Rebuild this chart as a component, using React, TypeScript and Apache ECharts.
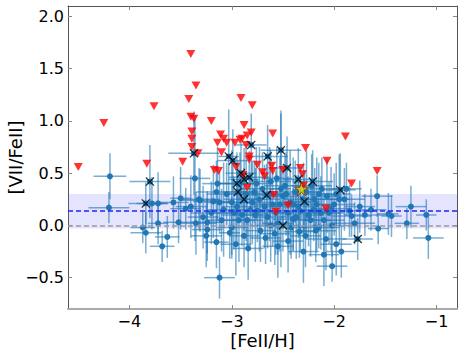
import React, { useEffect, useRef } from "react";
import * as echarts from "echarts";

// [x, y, xerr, yerr]
const bluePoints: number[][] = [
  [-4.19, 0.47, 0.16, 0.22], [-4.20, 0.17, 0.2, 0.15], [-3.78, 0.21, 0.15, 0.25], [-3.72, 0.21, 0.1, 0.3],
  [-3.57, 0.22, 0.15, 0.25], [-3.50, 0.26, 0.1, 0.3], [-3.72, 0.02, 0.1, 0.2], [-3.87, -0.02, 0.12, 0.15],
  [-3.84, -0.07, 0.15, 0.2], [-3.63, -0.11, 0.12, 0.2], [-3.68, -0.20, 0.12, 0.15], [-3.52, 0.03, 0.15, 0.2],
  [-3.32, 0.25, 0.2, 0.3], [-3.45, 0.16, 0.15, 0.2], [-3.18, 0.23, 0.2, 0.35], [-3.12, 0.22, 0.15, 0.3],
  [-3.02, -0.07, 0.1, 0.25], [-3.15, -0.16, 0.12, 0.25], [-3.12, -0.50, 0.15, 0.2], [-2.67, -0.12, 0.15, 0.25],
  [-3.24, -0.04, 0.15, 0.3], [-2.34, -0.06, 0.15, 0.25], [-2.08, -0.13, 0.2, 0.3], [-1.93, -0.25, 0.15, 0.25],
  [-2.02, -0.39, 0.15, 0.15], [-1.58, 0.28, 0.15, 0.2], [-1.57, -0.03, 0.1, 0.15], [-1.25, 0.18, 0.15, 0.2],
  [-1.10, 0.10, 0.1, 0.15], [-1.08, -0.12, 0.15, 0.2], [-1.29, 0.02, 0.12, 0.15], [-1.44, 0.09, 0.1, 0.2],
  [-1.64, 0.15, 0.15, 0.2], [-1.83, 0.09, 0.2, 0.2], [-2.15, -0.02, 0.2, 0.2], [-1.47, 0.11, 0.1, 0.2],
  [-3.80, 0.42, 0.2, 0.35], [-3.84, 0.21, 0.17, 0.2], [-3.37, 0.69, 0.25, 0.4], [-3.03, 0.66, 0.1, 0.45],
  [-2.99, 0.62, 0.15, 0.3], [-2.81, 0.77, 0.15, 0.3], [-2.65, 0.66, 0.2, 0.3], [-2.52, 0.72, 0.2, 0.35],
  [-2.46, 0.55, 0.15, 0.3], [-2.91, 0.50, 0.15, 0.3], [-2.95, 0.40, 0.2, 0.3], [-2.88, 0.44, 0.15, 0.3],
  [-2.83, 0.46, 0.2, 0.25], [-2.94, 0.32, 0.15, 0.3], [-2.88, 0.25, 0.2, 0.3], [-2.66, 0.29, 0.15, 0.3],
  [-2.50, 0.00, 0.15, 0.25], [-2.35, 0.44, 0.15, 0.3], [-2.21, 0.42, 0.2, 0.3], [-2.29, 0.23, 0.15, 0.3],
  [-1.94, 0.34, 0.15, 0.35], [-1.77, -0.13, 0.15, 0.2],
  [-3.05, 0.30, 0.2, 0.3], [-2.95, 0.18, 0.15, 0.35], [-2.90, 0.10, 0.2, 0.3], [-2.85, 0.05, 0.15, 0.25],
  [-2.80, 0.22, 0.2, 0.4], [-2.75, 0.14, 0.15, 0.3], [-2.70, 0.35, 0.2, 0.35], [-2.65, 0.08, 0.15, 0.3],
  [-2.60, 0.20, 0.2, 0.4], [-2.55, 0.02, 0.15, 0.3], [-2.52, 0.35, 0.1, 0.75], [-2.50, 0.28, 0.2, 0.3],
  [-2.45, 0.12, 0.15, 0.35], [-2.40, 0.06, 0.2, 0.3], [-2.35, 0.18, 0.15, 0.3], [-2.30, 0.25, 0.2, 0.35],
  [-2.25, 0.10, 0.15, 0.3], [-2.20, 0.15, 0.2, 0.3], [-2.15, 0.30, 0.15, 0.3], [-2.10, 0.05, 0.2, 0.3],
  [-2.05, 0.12, 0.15, 0.3], [-2.00, 0.20, 0.2, 0.3], [-1.95, 0.25, 0.1, 0.43], [-1.90, 0.25, 0.2, 0.3],
  [-1.85, 0.14, 0.15, 0.25], [-1.80, 0.02, 0.2, 0.2], [-1.75, 0.18, 0.15, 0.25], [-1.70, 0.10, 0.2, 0.2],
  [-3.00, -0.02, 0.15, 0.3], [-2.92, 0.40, 0.2, 0.3], [-2.88, -0.10, 0.15, 0.3], [-2.78, 0.32, 0.2, 0.3],
  [-2.72, -0.05, 0.15, 0.3], [-2.62, 0.42, 0.2, 0.3], [-2.58, -0.08, 0.15, 0.3], [-2.48, 0.38, 0.2, 0.3],
  [-2.42, -0.02, 0.15, 0.3], [-2.38, 0.32, 0.2, 0.3], [-2.28, -0.10, 0.15, 0.3], [-2.22, 0.38, 0.2, 0.3],
  [-2.12, 0.35, 0.15, 0.3], [-2.18, -0.05, 0.2, 0.3], [-1.98, 0.30, 0.15, 0.3], [-2.02, 0.00, 0.2, 0.3],
  [-1.88, 0.35, 0.15, 0.25], [-3.20, 0.12, 0.2, 0.3], [-3.10, 0.05, 0.15, 0.3], [-3.15, 0.32, 0.2, 0.3],
  [-3.28, 0.08, 0.15, 0.3], [-3.35, 0.02, 0.2, 0.3], [-3.40, 0.18, 0.15, 0.3], [-3.25, -0.10, 0.15, 0.3],
  [-2.96, -0.18, 0.15, 0.3], [-2.84, -0.22, 0.15, 0.3], [-2.55, -0.20, 0.15, 0.3], [-2.45, -0.15, 0.15, 0.3],
  [-2.30, -0.25, 0.15, 0.3], [-2.10, -0.28, 0.15, 0.3], [-1.98, -0.18, 0.15, 0.3], [-3.36, 0.45, 0.15, 0.6],
  [-3.31, 0.24, 0.2, 0.3], [-3.24, 0.03, 0.15, 0.3],
  [-3.08, 0.15, 0.15, 0.45], [-3.00, 0.22, 0.2, 0.5], [-2.93, 0.05, 0.15, 0.4], [-2.86, 0.30, 0.2, 0.45],
  [-2.77, 0.10, 0.15, 0.45], [-2.73, 0.25, 0.2, 0.5], [-2.68, 0.18, 0.15, 0.4], [-2.63, 0.30, 0.2, 0.45],
  [-2.57, 0.12, 0.15, 0.4], [-2.53, 0.20, 0.2, 0.45], [-2.47, 0.30, 0.15, 0.4], [-2.43, 0.22, 0.2, 0.5],
  [-2.37, 0.08, 0.15, 0.4], [-2.33, 0.14, 0.2, 0.4], [-2.27, 0.32, 0.15, 0.4], [-2.23, 0.05, 0.2, 0.35],
  [-2.17, 0.20, 0.15, 0.45], [-2.13, 0.12, 0.2, 0.35], [-2.07, 0.28, 0.15, 0.35], [-2.03, 0.16, 0.2, 0.4],
  [-2.98, 0.12, 0.2, 0.35], [-2.82, 0.15, 0.2, 0.35], [-2.62, 0.00, 0.2, 0.35], [-2.40, 0.20, 0.15, 0.45],
  [-3.14, 0.40, 0.15, 0.35], [-2.76, 0.40, 0.15, 0.35], [-2.56, 0.45, 0.15, 0.3], [-2.19, 0.25, 0.15, 0.3],
];

const upperLimits: number[][] = [
  [-4.50, 0.56], [-4.25, 0.98], [-3.76, 1.14], [-3.83, 0.59], [-3.40, 1.64], [-3.35, 1.34], [-3.42, 1.21],
  [-3.40, 1.04], [-3.37, 1.02], [-3.20, 1.00], [-2.91, 1.22], [-2.80, 1.15], [-3.39, 0.90], [-3.39, 0.83],
  [-3.39, 0.75], [-3.33, 0.69], [-3.48, 0.61], [-3.11, 0.87], [-3.08, 0.83], [-3.14, 0.79], [-3.05, 0.79],
  [-2.97, 0.79], [-2.92, 0.82], [-2.90, 0.83], [-2.88, 0.96], [-2.85, 0.86], [-2.81, 0.89], [-2.86, 0.77],
  [-3.10, 0.70], [-3.17, 0.53], [-3.13, 0.52], [-2.83, 0.66], [-2.83, 0.63], [-2.75, 0.58], [-2.70, 0.51],
  [-2.61, 0.57], [-2.60, 0.52], [-2.50, 0.53], [-2.33, 0.55], [-2.31, 0.49], [-2.28, 0.74], [-2.60, 0.88],
  [-1.89, 0.85], [-2.07, 0.62], [-1.58, 0.52], [-1.83, 0.40], [-2.30, 0.38], [-2.08, 0.16], [-2.85, 0.36],
  [-2.57, 0.13], [-2.45, 0.19], [-2.59, 0.29], [-2.68, 0.47], [-2.89, 0.48], [-2.96, 0.56],
];

const crossPoints: number[][] = [
  [-3.80, 0.42], [-3.84, 0.21], [-3.37, 0.69], [-3.03, 0.66], [-2.99, 0.62], [-2.81, 0.77], [-2.65, 0.66],
  [-2.52, 0.72], [-2.46, 0.55], [-2.91, 0.50], [-2.95, 0.40], [-2.88, 0.44], [-2.83, 0.46], [-2.94, 0.32],
  [-2.88, 0.25], [-2.66, 0.29], [-2.50, 0.00], [-2.35, 0.44], [-2.21, 0.42], [-2.29, 0.23], [-1.94, 0.34],
  [-1.77, -0.13],
];

const starPoint: number[][] = [[-2.32, 0.35]];

const xTicks = [-4, -3, -2, -1];
const yTicks = [-0.5, 0, 0.5, 1.0, 1.5, 2.0];
const meanValue = 0.135;
const bandLow = -0.03;
const bandHigh = 0.3;

const FONT = "DejaVu Sans";
const minus = (s: string) => s.replace("-", "\u2212");

export default function App() {
  const ref = useRef<HTMLDivElement>(null);
  useEffect(() => {
    if (!ref.current) return;
    const chart = echarts.init(ref.current, undefined, { renderer: "svg" });
    const xBase = {
      type: "value", min: -4.6, max: -0.8, scale: true,
      splitLine: { show: false },
    };
    const yBase = {
      type: "value", min: -0.8, max: 2.1, scale: true,
      splitLine: { show: false },
    };
    const errColor = "rgba(31,119,180,0.6)";
    chart.setOption({
      animation: false,
      grid: { left: 68, right: 7, top: 6, bottom: 45, containLabel: false, outerBoundsMode: "none" },
      xAxis: [
        {
          ...xBase, position: "bottom",
          name: "[FeII/H]", nameLocation: "middle", nameGap: 22, nameMoveOverlap: false,
          nameTextStyle: { fontFamily: FONT, fontSize: 18, color: "#000" },
          axisLine: { show: true, onZero: false, lineStyle: { color: "#aaa", width: 2 } },
          axisTick: { show: true, inside: true, length: 4, customValues: xTicks, lineStyle: { color: "#888" } },
          axisLabel: { customValues: xTicks, fontFamily: FONT, fontSize: 16, color: "#000", margin: 4,
            formatter: (v: number) => minus(String(v)) },
        },
        {
          ...xBase, position: "top",
          axisLine: { show: true, onZero: false, lineStyle: { color: "#555", width: 1 } },
          axisTick: { show: true, inside: true, length: 4, customValues: xTicks, lineStyle: { color: "#888" } },
          axisLabel: { show: false },
        },
      ],
      yAxis: [
        {
          ...yBase, position: "left",
          name: "[VII/FeII]", nameLocation: "middle", nameGap: 43, nameMoveOverlap: false,
          nameTextStyle: { fontFamily: FONT, fontSize: 18, color: "#000", lineHeight: 20 },
          axisLine: { show: true, onZero: false, lineStyle: { color: "#555", width: 1 } },
          axisTick: { show: true, inside: true, length: 4, customValues: yTicks, lineStyle: { color: "#888" } },
          axisLabel: { customValues: yTicks, fontFamily: FONT, fontSize: 16, color: "#000", margin: 4,
            formatter: (v: number) => minus(v.toFixed(1)) },
        },
        {
          ...yBase, position: "right",
          axisLine: { show: true, onZero: false, lineStyle: { color: "#555", width: 1 } },
          axisTick: { show: true, inside: true, length: 4, customValues: yTicks, lineStyle: { color: "#888" } },
          axisLabel: { show: false },
        },
      ],
      series: [
        {
          type: "line", data: [], z: 1, silent: true,
          markArea: {
            silent: true,
            itemStyle: { color: "rgba(90,90,255,0.16)" },
            data: [[{ yAxis: bandLow }, { yAxis: bandHigh }]],
          },
        },
        {
          type: "custom", z: 2, clip: true,
          data: bluePoints,
          renderItem: (params: any, api: any) => {
            const x = api.value(0), y = api.value(1), xe = api.value(2), ye = api.value(3);
            const a = api.coord([x - xe, y]), b = api.coord([x + xe, y]);
            const c = api.coord([x, y - ye]), d = api.coord([x, y + ye]);
            return {
              type: "group",
              children: [
                { type: "line", shape: { x1: a[0], y1: a[1], x2: b[0], y2: b[1] }, style: { stroke: errColor, lineWidth: 1.5 } },
                { type: "line", shape: { x1: c[0], y1: c[1], x2: d[0], y2: d[1] }, style: { stroke: errColor, lineWidth: 1.5 } },
              ],
            };
          },
        },
        {
          type: "scatter", z: 3, data: bluePoints.map((p) => [p[0], p[1]]),
          symbol: "circle", symbolSize: 6, itemStyle: { color: "#1f77b4", opacity: 1 },
        },
        {
          type: "line", data: [], z: 4, silent: true,
          markLine: {
            silent: true, symbol: "none", label: { show: false },
            data: [
              { yAxis: meanValue, lineStyle: { color: "#2222ff", type: [5, 3], width: 1.5 } },
              { yAxis: 0, lineStyle: { color: "#999", type: [5, 3], width: 1.5 } },
            ],
          },
        },
        {
          type: "scatter", z: 5, data: upperLimits,
          symbol: "path://M0,0L10,0L5,9Z", symbolSize: [9, 8],
          itemStyle: { color: "#ff0000" },
        },
        {
          type: "scatter", z: 6, data: crossPoints,
          symbol: "path://M0,1L1,0L5,4L9,0L10,1L6,5L10,9L9,10L5,6L1,10L0,9L4,5Z", symbolSize: 9,
          itemStyle: { color: "#000" },
        },
        {
          type: "scatter", z: 7, data: starPoint,
          symbol: "path://M50,0L61,35L98,35L68,57L79,91L50,70L21,91L32,57L2,35L39,35Z", symbolSize: 14,
          itemStyle: { color: "#c8c800", borderColor: "#8a2a00", borderWidth: 1 },
        },
      ],
    });
    return () => chart.dispose();
  }, []);
  return <div ref={ref} style={{ width: 464, height: 354, position: "absolute", left: 0, top: 0 }} />;
}
